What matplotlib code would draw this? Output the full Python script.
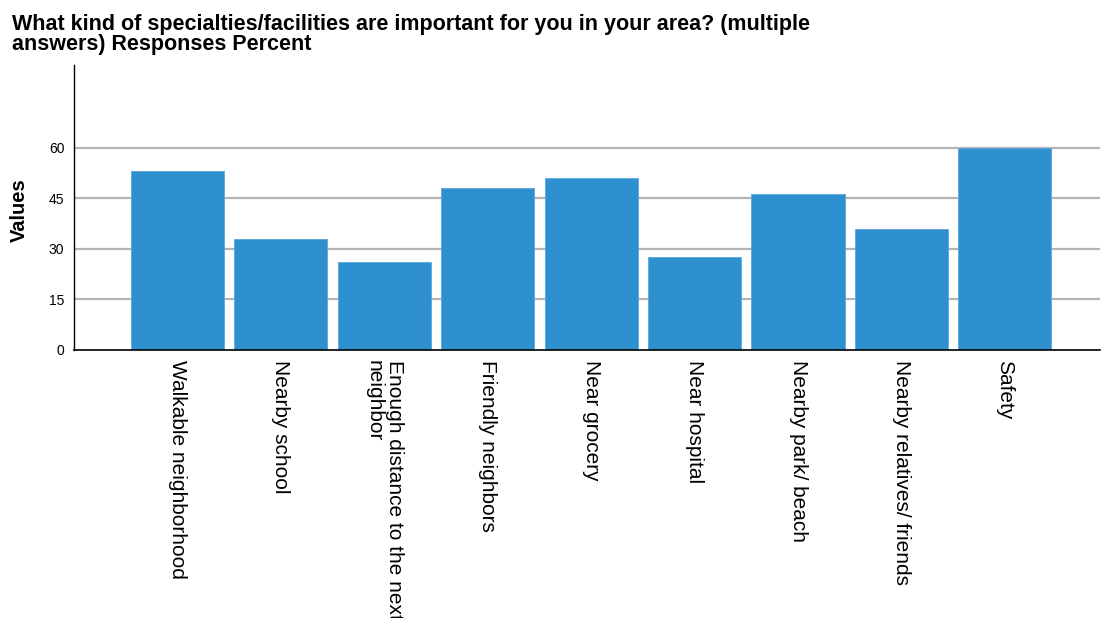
import matplotlib
matplotlib.use("Agg")
import matplotlib.pyplot as plt

# survey answers (percent of respondents)
categories = [
    "Walkable neighborhood",
    "Nearby school",
    "Enough distance to the next\nneighbor",
    "Friendly neighbors",
    "Near grocery",
    "Near hospital",
    "Nearby park/ beach",
    "Nearby relatives/ friends",
    "Safety",
]
percent = [53.0, 33.0, 26.0, 48.0, 51.2, 27.5, 46.2, 35.9, 60.0]
yticks = [0, 15, 30, 45, 60]

plt.rcParams["font.family"] = ["Liberation Sans", "DejaVu Sans"]

fig = plt.figure(figsize=(11.02, 6.18), dpi=100)
ax = fig.add_axes([0.0672, 0.4337, 0.931, 0.4611])

x = range(len(categories))
ax.bar(x, percent, width=0.9, color="#2f90cf", edgecolor="#5aa8dc", linewidth=0.6, zorder=3)

ax.set_xlim(-1.0, 8.92)
ax.set_ylim(0, 84.6)
ax.set_yticks(yticks)
ax.set_yticklabels([str(t) for t in yticks], fontsize=10)
ax.tick_params(axis="y", length=0, pad=7)
ax.tick_params(axis="x", length=0, pad=7)
ax.set_xticks(list(x))
ax.set_xticklabels(categories, rotation=-90, fontsize=15, va="top", ha="center",
                   multialignment="left", linespacing=1.1)

for t in yticks[1:]:
    ax.axhline(t, color="#b4b4b4", linewidth=1.6, zorder=1)

for side in ["top", "right"]:
    ax.spines[side].set_visible(False)
ax.spines["left"].set_linewidth(1.0)
ax.spines["bottom"].set_linewidth(1.2)
ax.spines["bottom"].set_zorder(4)

fig.text(0.009, 0.66, "Values", rotation=90, fontsize=14.5, fontweight="bold",
         ha="left", va="center")

fig.text(0.011, 0.978,
         "What kind of specialties/facilities are important for you in your area? (multiple\n"
         "answers) Responses Percent",
         fontsize=15.5, fontweight="bold", ha="left", va="top", linespacing=0.95)

fig.savefig("out.png", dpi=100)
